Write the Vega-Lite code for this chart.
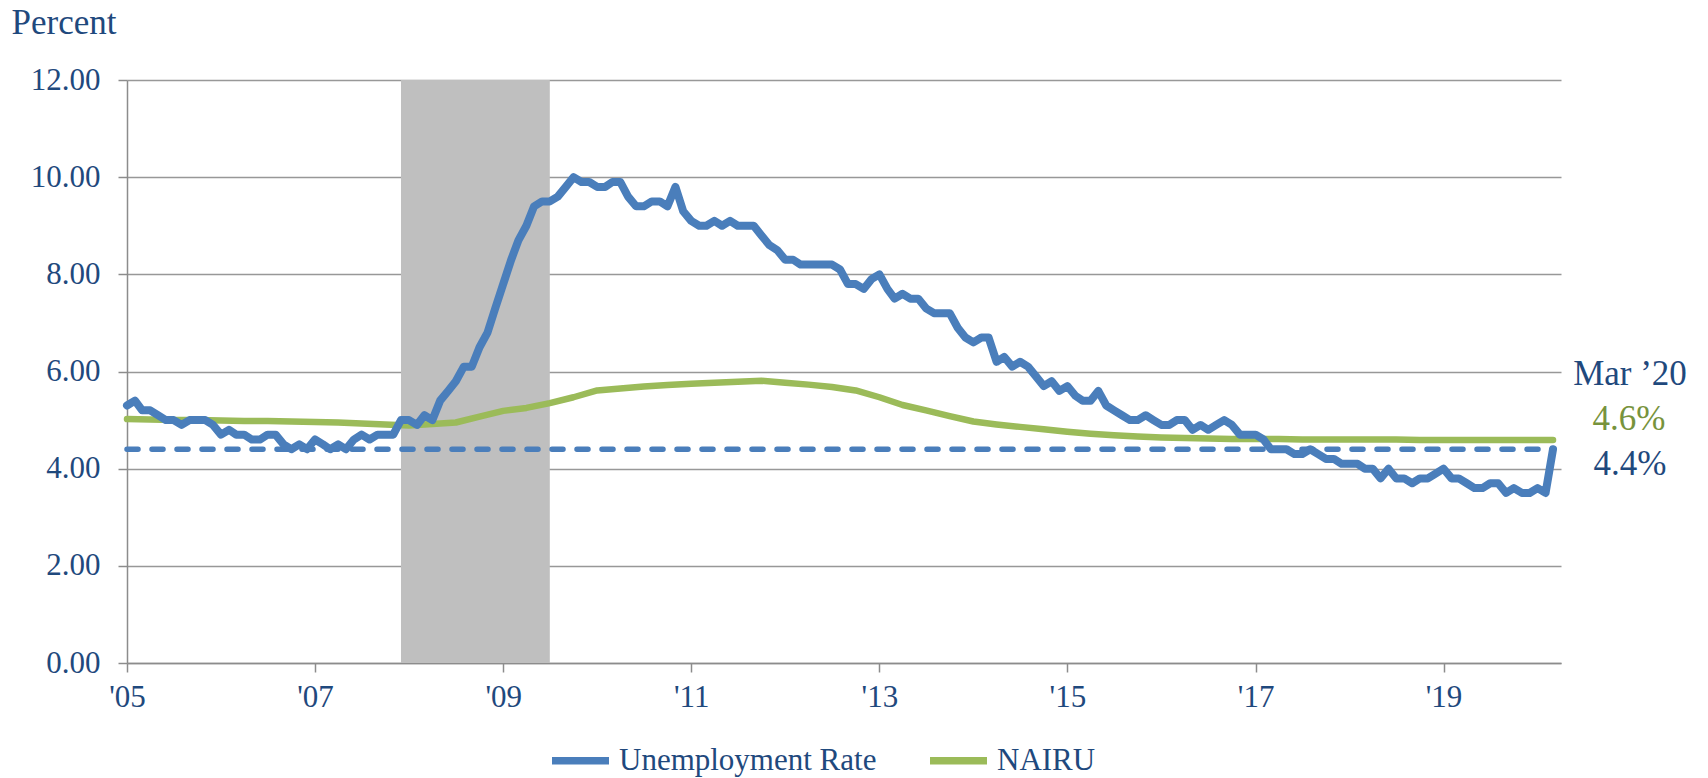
{
  "$schema": "https://vega.github.io/schema/vega-lite/v6.json",
  "width": 1434,
  "height": 583,
  "autosize": {"type": "none"},
  "padding": {"left": 127, "top": 80, "right": 147, "bottom": 115},
  "background": "white",
  "config": {
    "view": {"stroke": null},
    "font": "Liberation Serif",
    "axis": {
      "labelFont": "Liberation Serif",
      "labelFontSize": 31,
      "labelColor": "#1F497D",
      "domainColor": "#8C8C8C",
      "domainWidth": 1.5,
      "tickColor": "#8C8C8C",
      "tickWidth": 1.5,
      "tickSize": 9,
      "gridColor": "#989898",
      "gridWidth": 1.5
    },
    "legend": {
      "labelFont": "Liberation Serif",
      "labelFontSize": 31,
      "labelColor": "#1F497D",
      "labelLimit": 500
    }
  },
  "datasets": {
    "ur": [
      {"d":"2005-01-01","v":5.3},{"d":"2005-02-01","v":5.4},{"d":"2005-03-01","v":5.2},{"d":"2005-04-01","v":5.2},{"d":"2005-05-01","v":5.1},{"d":"2005-06-01","v":5.0},{"d":"2005-07-01","v":5.0},{"d":"2005-08-01","v":4.9},{"d":"2005-09-01","v":5.0},{"d":"2005-10-01","v":5.0},{"d":"2005-11-01","v":5.0},{"d":"2005-12-01","v":4.9},
      {"d":"2006-01-01","v":4.7},{"d":"2006-02-01","v":4.8},{"d":"2006-03-01","v":4.7},{"d":"2006-04-01","v":4.7},{"d":"2006-05-01","v":4.6},{"d":"2006-06-01","v":4.6},{"d":"2006-07-01","v":4.7},{"d":"2006-08-01","v":4.7},{"d":"2006-09-01","v":4.5},{"d":"2006-10-01","v":4.4},{"d":"2006-11-01","v":4.5},{"d":"2006-12-01","v":4.4},
      {"d":"2007-01-01","v":4.6},{"d":"2007-02-01","v":4.5},{"d":"2007-03-01","v":4.4},{"d":"2007-04-01","v":4.5},{"d":"2007-05-01","v":4.4},{"d":"2007-06-01","v":4.6},{"d":"2007-07-01","v":4.7},{"d":"2007-08-01","v":4.6},{"d":"2007-09-01","v":4.7},{"d":"2007-10-01","v":4.7},{"d":"2007-11-01","v":4.7},{"d":"2007-12-01","v":5.0},
      {"d":"2008-01-01","v":5.0},{"d":"2008-02-01","v":4.9},{"d":"2008-03-01","v":5.1},{"d":"2008-04-01","v":5.0},{"d":"2008-05-01","v":5.4},{"d":"2008-06-01","v":5.6},{"d":"2008-07-01","v":5.8},{"d":"2008-08-01","v":6.1},{"d":"2008-09-01","v":6.1},{"d":"2008-10-01","v":6.5},{"d":"2008-11-01","v":6.8},{"d":"2008-12-01","v":7.3},
      {"d":"2009-01-01","v":7.8},{"d":"2009-02-01","v":8.3},{"d":"2009-03-01","v":8.7},{"d":"2009-04-01","v":9.0},{"d":"2009-05-01","v":9.4},{"d":"2009-06-01","v":9.5},{"d":"2009-07-01","v":9.5},{"d":"2009-08-01","v":9.6},{"d":"2009-09-01","v":9.8},{"d":"2009-10-01","v":10.0},{"d":"2009-11-01","v":9.9},{"d":"2009-12-01","v":9.9},
      {"d":"2010-01-01","v":9.8},{"d":"2010-02-01","v":9.8},{"d":"2010-03-01","v":9.9},{"d":"2010-04-01","v":9.9},{"d":"2010-05-01","v":9.6},{"d":"2010-06-01","v":9.4},{"d":"2010-07-01","v":9.4},{"d":"2010-08-01","v":9.5},{"d":"2010-09-01","v":9.5},{"d":"2010-10-01","v":9.4},{"d":"2010-11-01","v":9.8},{"d":"2010-12-01","v":9.3},
      {"d":"2011-01-01","v":9.1},{"d":"2011-02-01","v":9.0},{"d":"2011-03-01","v":9.0},{"d":"2011-04-01","v":9.1},{"d":"2011-05-01","v":9.0},{"d":"2011-06-01","v":9.1},{"d":"2011-07-01","v":9.0},{"d":"2011-08-01","v":9.0},{"d":"2011-09-01","v":9.0},{"d":"2011-10-01","v":8.8},{"d":"2011-11-01","v":8.6},{"d":"2011-12-01","v":8.5},
      {"d":"2012-01-01","v":8.3},{"d":"2012-02-01","v":8.3},{"d":"2012-03-01","v":8.2},{"d":"2012-04-01","v":8.2},{"d":"2012-05-01","v":8.2},{"d":"2012-06-01","v":8.2},{"d":"2012-07-01","v":8.2},{"d":"2012-08-01","v":8.1},{"d":"2012-09-01","v":7.8},{"d":"2012-10-01","v":7.8},{"d":"2012-11-01","v":7.7},{"d":"2012-12-01","v":7.9},
      {"d":"2013-01-01","v":8.0},{"d":"2013-02-01","v":7.7},{"d":"2013-03-01","v":7.5},{"d":"2013-04-01","v":7.6},{"d":"2013-05-01","v":7.5},{"d":"2013-06-01","v":7.5},{"d":"2013-07-01","v":7.3},{"d":"2013-08-01","v":7.2},{"d":"2013-09-01","v":7.2},{"d":"2013-10-01","v":7.2},{"d":"2013-11-01","v":6.9},{"d":"2013-12-01","v":6.7},
      {"d":"2014-01-01","v":6.6},{"d":"2014-02-01","v":6.7},{"d":"2014-03-01","v":6.7},{"d":"2014-04-01","v":6.2},{"d":"2014-05-01","v":6.3},{"d":"2014-06-01","v":6.1},{"d":"2014-07-01","v":6.2},{"d":"2014-08-01","v":6.1},{"d":"2014-09-01","v":5.9},{"d":"2014-10-01","v":5.7},{"d":"2014-11-01","v":5.8},{"d":"2014-12-01","v":5.6},
      {"d":"2015-01-01","v":5.7},{"d":"2015-02-01","v":5.5},{"d":"2015-03-01","v":5.4},{"d":"2015-04-01","v":5.4},{"d":"2015-05-01","v":5.6},{"d":"2015-06-01","v":5.3},{"d":"2015-07-01","v":5.2},{"d":"2015-08-01","v":5.1},{"d":"2015-09-01","v":5.0},{"d":"2015-10-01","v":5.0},{"d":"2015-11-01","v":5.1},{"d":"2015-12-01","v":5.0},
      {"d":"2016-01-01","v":4.9},{"d":"2016-02-01","v":4.9},{"d":"2016-03-01","v":5.0},{"d":"2016-04-01","v":5.0},{"d":"2016-05-01","v":4.8},{"d":"2016-06-01","v":4.9},{"d":"2016-07-01","v":4.8},{"d":"2016-08-01","v":4.9},{"d":"2016-09-01","v":5.0},{"d":"2016-10-01","v":4.9},{"d":"2016-11-01","v":4.7},{"d":"2016-12-01","v":4.7},
      {"d":"2017-01-01","v":4.7},{"d":"2017-02-01","v":4.6},{"d":"2017-03-01","v":4.4},{"d":"2017-04-01","v":4.4},{"d":"2017-05-01","v":4.4},{"d":"2017-06-01","v":4.3},{"d":"2017-07-01","v":4.3},{"d":"2017-08-01","v":4.4},{"d":"2017-09-01","v":4.3},{"d":"2017-10-01","v":4.2},{"d":"2017-11-01","v":4.2},{"d":"2017-12-01","v":4.1},
      {"d":"2018-01-01","v":4.1},{"d":"2018-02-01","v":4.1},{"d":"2018-03-01","v":4.0},{"d":"2018-04-01","v":4.0},{"d":"2018-05-01","v":3.8},{"d":"2018-06-01","v":4.0},{"d":"2018-07-01","v":3.8},{"d":"2018-08-01","v":3.8},{"d":"2018-09-01","v":3.7},{"d":"2018-10-01","v":3.8},{"d":"2018-11-01","v":3.8},{"d":"2018-12-01","v":3.9},
      {"d":"2019-01-01","v":4.0},{"d":"2019-02-01","v":3.8},{"d":"2019-03-01","v":3.8},{"d":"2019-04-01","v":3.7},{"d":"2019-05-01","v":3.6},{"d":"2019-06-01","v":3.6},{"d":"2019-07-01","v":3.7},{"d":"2019-08-01","v":3.7},{"d":"2019-09-01","v":3.5},{"d":"2019-10-01","v":3.6},{"d":"2019-11-01","v":3.5},{"d":"2019-12-01","v":3.5},
      {"d":"2020-01-01","v":3.6},{"d":"2020-02-01","v":3.5},{"d":"2020-03-01","v":4.4}
    ],
    "nairu": [
      {"d":"2005-01-01","v":5.02},{"d":"2005-04-01","v":5.01},{"d":"2005-07-01","v":5.0},{"d":"2005-10-01","v":5.0},
      {"d":"2006-01-01","v":4.99},{"d":"2006-04-01","v":4.98},{"d":"2006-07-01","v":4.98},{"d":"2006-10-01","v":4.97},
      {"d":"2007-01-01","v":4.96},{"d":"2007-04-01","v":4.95},{"d":"2007-07-01","v":4.93},{"d":"2007-10-01","v":4.91},
      {"d":"2008-01-01","v":4.89},{"d":"2008-04-01","v":4.92},{"d":"2008-07-01","v":4.95},{"d":"2008-10-01","v":5.07},
      {"d":"2009-01-01","v":5.19},{"d":"2009-04-01","v":5.25},{"d":"2009-07-01","v":5.35},{"d":"2009-10-01","v":5.47},
      {"d":"2010-01-01","v":5.61},{"d":"2010-04-01","v":5.65},{"d":"2010-07-01","v":5.69},{"d":"2010-10-01","v":5.72},
      {"d":"2011-01-01","v":5.75},{"d":"2011-04-01","v":5.77},{"d":"2011-07-01","v":5.79},{"d":"2011-10-01","v":5.81},
      {"d":"2012-01-01","v":5.77},{"d":"2012-04-01","v":5.73},{"d":"2012-07-01","v":5.68},{"d":"2012-10-01","v":5.61},
      {"d":"2013-01-01","v":5.47},{"d":"2013-04-01","v":5.31},{"d":"2013-07-01","v":5.2},{"d":"2013-10-01","v":5.08},
      {"d":"2014-01-01","v":4.97},{"d":"2014-04-01","v":4.91},{"d":"2014-07-01","v":4.86},{"d":"2014-10-01","v":4.81},
      {"d":"2015-01-01","v":4.76},{"d":"2015-04-01","v":4.72},{"d":"2015-07-01","v":4.69},{"d":"2015-10-01","v":4.66},
      {"d":"2016-01-01","v":4.64},{"d":"2016-04-01","v":4.63},{"d":"2016-07-01","v":4.62},{"d":"2016-10-01","v":4.61},
      {"d":"2017-01-01","v":4.61},{"d":"2017-04-01","v":4.61},{"d":"2017-07-01","v":4.6},{"d":"2017-10-01","v":4.6},
      {"d":"2018-01-01","v":4.6},{"d":"2018-04-01","v":4.6},{"d":"2018-07-01","v":4.6},{"d":"2018-10-01","v":4.59},
      {"d":"2019-01-01","v":4.59},{"d":"2019-04-01","v":4.59},{"d":"2019-07-01","v":4.59},{"d":"2019-10-01","v":4.59},
      {"d":"2020-01-01","v":4.59},{"d":"2020-03-01","v":4.59}
    ],
    "recession": [{"start":"2007-12-01","end":"2009-07-01"}],
    "ref": [{"from":"2005-01-01","to":"2020-03-01","v":4.4}],
    "labelsDark": [{"d":"2020-03-01","t":"Mar ’20","y":5.72},{"d":"2020-03-01","t":"4.4%","y":3.86}],
    "labelsGreen": [{"d":"2020-03-01","t":"4.6%","y":4.8}]
  },
  "layer": [
    {
      "data": {"name": "recession"},
      "mark": {"type": "rect", "color": "#BFBFBF"},
      "encoding": {
        "x": {
          "field": "start", "type": "temporal",
          "scale": {"type": "utc", "domain": [{"year":2005,"month":1,"date":1,"utc":true},{"year":2020,"month":4,"date":1,"utc":true}], "nice": false},
          "axis": {
            "title": null,
            "labelExpr": "\"'\" + utcFormat(datum.value, '%y')",
            "values": [
              {"year":2005,"month":1,"date":1,"utc":true},
              {"year":2007,"month":1,"date":1,"utc":true},
              {"year":2009,"month":1,"date":1,"utc":true},
              {"year":2011,"month":1,"date":1,"utc":true},
              {"year":2013,"month":1,"date":1,"utc":true},
              {"year":2015,"month":1,"date":1,"utc":true},
              {"year":2017,"month":1,"date":1,"utc":true},
              {"year":2019,"month":1,"date":1,"utc":true}
            ],
            "grid": false,
            "labelPadding": 10,
            "labelFlush": false,
            "labelOverlap": false
          }
        },
        "x2": {"field": "end"},
        "y": {
          "datum": 0, "type": "quantitative",
          "scale": {"domain": [0, 12], "nice": false, "zero": true},
          "axis": {
            "values": [0, 2, 4, 6, 8, 10, 12],
            "format": ".2f",
            "grid": true,
            "labelPadding": 18,
            "title": "Percent",
            "titleFont": "Liberation Serif",
            "titleFontSize": 35,
            "titleFontWeight": "normal",
            "titleColor": "#1F497D",
            "titleAngle": 0,
            "titleAlign": "left",
            "titleBaseline": "alphabetic",
            "titleX": -116,
            "titleY": -47
          }
        },
        "y2": {"datum": 12}
      }
    },
    {
      "data": {"name": "ref"},
      "mark": {"type": "rule", "color": "#4A7EBB", "strokeWidth": 5.5, "strokeDash": [11, 14], "strokeCap": "round"},
      "encoding": {
        "x": {"field": "from", "type": "temporal"},
        "x2": {"field": "to"},
        "y": {"field": "v", "type": "quantitative"}
      }
    },
    {
      "data": {"name": "nairu"},
      "mark": {"type": "line", "strokeWidth": 6.5, "strokeCap": "round", "strokeJoin": "round"},
      "encoding": {
        "x": {"field": "d", "type": "temporal"},
        "y": {"field": "v", "type": "quantitative"},
        "color": {
          "datum": "NAIRU",
          "scale": {"domain": ["Unemployment Rate", "NAIRU"], "range": ["#4A7EBB", "#9BBB59"]},
          "legend": {
            "title": null,
            "orient": "none",
            "legendX": 421,
            "legendY": 648,
            "direction": "horizontal",
            "symbolType": "stroke",
            "symbolSize": 3249,
            "symbolStrokeWidth": 7.5,
            "labelOffset": 6,
            "columnPadding": 38,
            "padding": 0
          }
        }
      }
    },
    {
      "data": {"name": "ur"},
      "mark": {"type": "line", "strokeWidth": 8, "strokeCap": "round", "strokeJoin": "round"},
      "encoding": {
        "x": {"field": "d", "type": "temporal"},
        "y": {"field": "v", "type": "quantitative"},
        "color": {"datum": "Unemployment Rate"}
      }
    },
    {
      "data": {"name": "labelsDark"},
      "mark": {"type": "text", "font": "Liberation Serif", "fontSize": 35, "color": "#1F497D", "align": "center", "baseline": "alphabetic", "dx": 77},
      "encoding": {
        "x": {"field": "d", "type": "temporal"},
        "y": {"field": "y", "type": "quantitative"},
        "text": {"field": "t"}
      }
    },
    {
      "data": {"name": "labelsGreen"},
      "mark": {"type": "text", "font": "Liberation Serif", "fontSize": 35, "color": "#77933C", "align": "center", "baseline": "alphabetic", "dx": 76},
      "encoding": {
        "x": {"field": "d", "type": "temporal"},
        "y": {"field": "y", "type": "quantitative"},
        "text": {"field": "t"}
      }
    }
  ]
}
